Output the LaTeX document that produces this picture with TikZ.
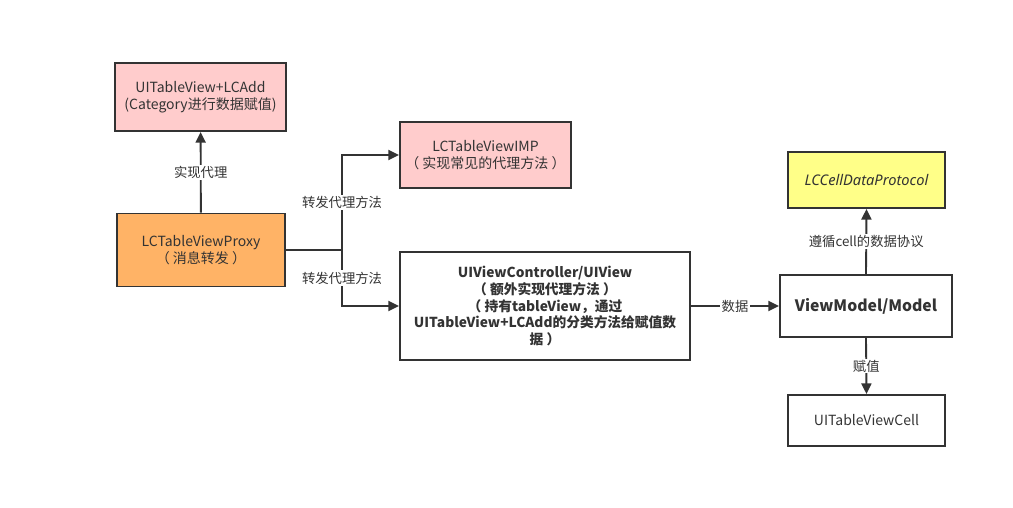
\documentclass[tikz,border=0pt]{standalone}
\usepackage{fontspec}
\setmainfont{Noto Sans CJK SC}
\newfontfamily\protofont{Noto Sans}
\usetikzlibrary{arrows.meta}
\definecolor{linegray}{HTML}{333333}
\definecolor{pinkbox}{HTML}{FFCCCC}
\definecolor{orangebox}{HTML}{FFB366}
\definecolor{yellowbox}{HTML}{FFFF88}
\begin{document}
\begin{tikzpicture}[x=0.75pt, y=-0.75pt, >={Triangle[length=8pt,width=7.5pt]},
    box/.style={draw=linegray, line width=1.4pt, align=center, text=linegray,
        font=\fontsize{10.5}{12.3}\selectfont, inner sep=0pt},
    link/.style={draw=linegray, line width=1.4pt},
    tag/.style={fill=white, text=linegray, inner sep=1pt, font=\fontsize{10}{12}\selectfont}]
    \useasboundingbox (0,0) rectangle (1013,507);

    \node[box, fill=pinkbox, minimum width=171*0.75pt, minimum height=68*0.75pt] (lcadd) at (200.5,97)
        {UITableView+LCAdd\\(Category进行数据赋值)};
    \node[box, fill=orangebox, minimum width=168*0.75pt, minimum height=73*0.75pt] (proxy) at (201,250)
        {LCTableViewProxy\\（ 消息转发 ）};
    \node[box, fill=pinkbox, minimum width=171*0.75pt, minimum height=66*0.75pt] (imp) at (485.5,155)
        {LCTableViewIMP\\（ 实现常见的代理方法 ）};
    \node[box, font=\fontsize{10.3}{12.4}\selectfont\bfseries, minimum width=290*0.75pt, minimum height=108*0.75pt] (vc) at (545,306)
        {UIViewController/UIView\\（ 额外实现代理方法 ）\\（ 持有tableView，通过\\UITableView+LCAdd的分类方法给赋值数\\据 ）};
    \node[box, fill=yellowbox, font=\fontsize{11}{13}\selectfont\protofont\itshape, minimum width=157*0.75pt, minimum height=56*0.75pt] (proto) at (866.5,180)
        {LCCellDataProtocol};
    \node[box, font=\fontsize{11.8}{14}\selectfont\bfseries, minimum width=172*0.75pt, minimum height=62*0.75pt] (model) at (866,306)
        {ViewModel/Model};
    \node[box, minimum width=157*0.75pt, minimum height=51*0.75pt] (cell) at (866.5,420.5)
        {UITableViewCell};

    % proxy -> category
    \draw[link, ->] (proxy) -- node[tag] {实现代理} (lcadd);

    % forwarding branch
    \coordinate (fork) at (342,250);
    \draw[link] (proxy.east) -- (fork);
    \draw[link, ->] (fork) |- node[tag, pos=0.25] {转发代理方法} (imp.west);
    \draw[link, ->] (fork) |- node[tag, pos=0.25] {转发代理方法} (vc.west);

    % data flow
    \draw[link, ->] (vc.east) -- node[tag] {数据} (model.west);
    \draw[link, ->] (model.north) -- node[tag] {遵循cell的数据协议} (proto.south);
    \draw[link, ->] (model.south) -- node[tag] {赋值} (cell.north);
\end{tikzpicture}
\end{document}
